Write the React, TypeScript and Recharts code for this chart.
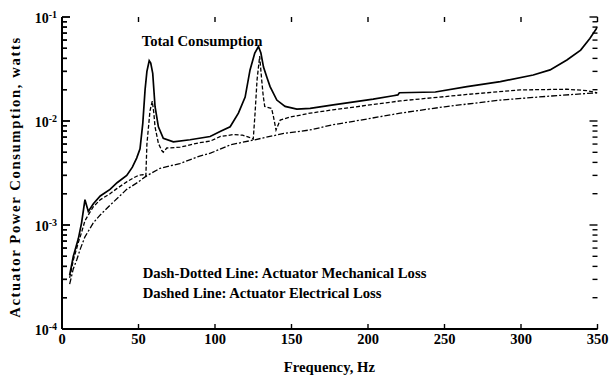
import React from 'react';
import { LineChart, Line, XAxis, YAxis, Customized } from 'recharts';

// Total consumption (solid)
const totalFreq = [5, 7.4, 10.7, 12.8, 15, 17.2, 20.5, 25, 31.4, 36, 42.3, 46, 48.8, 51, 52.8, 54.3, 55.5, 57, 58, 59.3, 60.8, 63, 66.2, 72.8, 83.7, 96.8, 104, 109.9, 115.3, 119.7, 122.9, 126, 128.4, 130, 131.7, 134, 136, 140.4, 145.8, 153.5, 162.2, 177.3, 203.4, 216.5, 219.5, 220.5, 244, 264.7, 286.5, 308, 319, 330, 339, 345, 350];
const totalVal = [3.3e-4, 5.0e-4, 7.4e-4, 1.05e-3, 1.75e-3, 1.35e-3, 1.6e-3, 1.9e-3, 2.2e-3, 2.55e-3, 3.0e-3, 3.6e-3, 4.4e-3, 5.4e-3, 9.5e-3, 0.02, 0.03, 0.038, 0.036, 0.0287, 0.0138, 8.8e-3, 6.8e-3, 6.3e-3, 6.6e-3, 7.1e-3, 8.0e-3, 8.8e-3, 0.0119, 0.017, 0.031, 0.045, 0.052, 0.045, 0.033, 0.026, 0.0214, 0.0159, 0.0138, 0.013, 0.0132, 0.0143, 0.0162, 0.0175, 0.0178, 0.0187, 0.019, 0.0214, 0.0239, 0.0277, 0.031, 0.0386, 0.048, 0.062, 0.08];

// Actuator electrical loss (dashed)
const elecFreq = [5, 7.4, 10.7, 12.8, 15, 17.2, 20.5, 25, 31.4, 36, 42.3, 47, 50, 53, 54.8, 55.5, 57.5, 59, 60, 60.8, 63, 65.2, 66.2, 68.5, 77.2, 90, 96.8, 103.6, 112, 118, 122, 125, 126.2, 127.5, 129.2, 130.5, 131.5, 132.5, 137, 138.2, 139.9, 142.6, 149, 162.2, 177, 221, 264.7, 299.5, 330, 343, 350];
const elecVal = [3.1e-4, 4.6e-4, 6.8e-4, 8.5e-4, 1.1e-3, 1.25e-3, 1.5e-3, 1.75e-3, 2.0e-3, 2.25e-3, 2.6e-3, 2.85e-3, 3.0e-3, 3.05e-3, 2.95e-3, 6e-3, 0.0125, 0.0155, 0.012, 8.8e-3, 6.1e-3, 5.2e-3, 5.0e-3, 5.5e-3, 5.6e-3, 6.2e-3, 6.4e-3, 7.1e-3, 7.4e-3, 7.3e-3, 7.0e-3, 6.7e-3, 0.012, 0.025, 0.042, 0.025, 0.0175, 0.0138, 0.0132, 0.011, 8.2e-3, 0.0102, 0.0109, 0.0119, 0.0128, 0.0156, 0.018, 0.0199, 0.0202, 0.0196, 0.0186];

// Actuator mechanical loss (dash-dotted)
const mechFreq = [5, 7.4, 9.6, 11.8, 15, 20.5, 25, 31.4, 42.3, 50, 55, 64, 77, 90, 97, 110, 126, 145, 162, 177, 200, 221, 250, 286.5, 320, 350];
const mechVal = [2.7e-4, 3.8e-4, 4.6e-4, 5.8e-4, 7.7e-4, 1.05e-3, 1.25e-3, 1.55e-3, 2.2e-3, 2.6e-3, 2.95e-3, 3.5e-3, 3.9e-3, 4.6e-3, 4.9e-3, 5.9e-3, 6.6e-3, 7.6e-3, 8.2e-3, 9.2e-3, 1.05e-2, 0.0119, 0.0137, 0.0159, 0.0174, 0.0187];

const xTicks = [0, 50, 100, 150, 200, 250, 300, 350];
const yTicks = [
  1e-4, 2e-4, 3e-4, 4e-4, 5e-4, 6e-4, 7e-4, 8e-4, 9e-4,
  1e-3, 2e-3, 3e-3, 4e-3, 5e-3, 6e-3, 7e-3, 8e-3, 9e-3,
  1e-2, 2e-2, 3e-2, 4e-2, 5e-2, 6e-2, 7e-2, 8e-2, 9e-2,
  1e-1,
];

const zip = (fs: number[], vs: number[]) => fs.map((f, i) => ({ f, v: vs[i] }));
const totalData = zip(totalFreq, totalVal);
const elecData = zip(elecFreq, elecVal);
const mechData = zip(mechFreq, mechVal);

const FONT = "'Liberation Serif', 'Times New Roman', serif";

// chart geometry
const W = 609;
const H = 375;
const M = { top: 17, right: 11.5, bottom: 0, left: 0 };
const Y_AXIS_W = 62;
const X_AXIS_H = 46;
const PLOT_L = M.left + Y_AXIS_W;
const PLOT_T = M.top;
const PLOT_W = W - M.left - M.right - Y_AXIS_W;
const PLOT_H = H - M.top - M.bottom - X_AXIS_H;
const X_MAX = 350;
const Y_MIN = 1e-4;
const Y_MAX = 1e-1;
const MAJOR_PX = 8;
const MINOR_PX = 5;
const VERT_PX = 5;

const isMajor = (v: number) => {
  const l = Math.log10(v);
  return Math.abs(l - Math.round(l)) < 1e-6;
};

// same mapping as the chart's axes (linear x, log y) for the decorative inward tick marks
const xPx = (f: number) => PLOT_L + (f / X_MAX) * PLOT_W;
const yPx = (v: number) =>
  PLOT_T + PLOT_H * (1 - (Math.log10(v) - Math.log10(Y_MIN)) / (Math.log10(Y_MAX) - Math.log10(Y_MIN)));

const leftLabel = (props: any) => {
  const x = Number(props.x);
  const y = Number(props.y);
  const v = props.payload.value;
  const major = isMajor(v);
  const len = major ? MAJOR_PX : MINOR_PX;
  const e = Math.round(Math.log10(v));
  return (
    <g>
      <rect x={x} y={y - 0.7} width={len} height={1.4} fill="#000" />
      {major && (
        <text x={x - 5} y={y + 5.5} textAnchor="end" fontFamily={FONT} fontWeight="bold" fontSize={14} fill="#000">
          10<tspan dy={-4.5} fontSize={10}>{String(e)}</tspan>
        </text>
      )}
    </g>
  );
};

const bottomLabel = (props: any) => {
  const x = Number(props.x);
  const y = Number(props.y);
  return (
    <text x={x} y={y + 14.5} textAnchor="middle" fontFamily={FONT} fontWeight="bold" fontSize={14.5} fill="#000">
      {props.payload.value}
    </text>
  );
};

const Annotations = () => {
  const right = PLOT_L + PLOT_W;
  const bottom = PLOT_T + PLOT_H;
  return (
    <g>
      <g stroke="#000" strokeWidth={1.4} fill="none">
        {yTicks.map((v) => {
          const y = yPx(v);
          const len = isMajor(v) ? MAJOR_PX : MINOR_PX;
          return (
            <g key={`y${v}`}>
              <line x1={PLOT_L} y1={y} x2={PLOT_L + len} y2={y} />
              <line x1={right - len} y1={y} x2={right} y2={y} />
            </g>
          );
        })}
        {xTicks.map((t) => {
          const x = xPx(t);
          return (
            <g key={`x${t}`}>
              <line x1={x} y1={bottom} x2={x} y2={bottom - VERT_PX} />
              <line x1={x} y1={PLOT_T} x2={x} y2={PLOT_T + VERT_PX} />
            </g>
          );
        })}
      </g>
      <g fontFamily={FONT} fontWeight="bold" fill="#000">
        <text x={141.7} y={46} fontSize={14.7}>Total Consumption</text>
        <text x={142.7} y={278.3} fontSize={14.7}>Dash-Dotted Line: Actuator Mechanical Loss</text>
        <text x={142.7} y={298.3} fontSize={14.7}>Dashed Line: Actuator Electrical Loss</text>
        <text x={329.4} y={372} fontSize={14.7} textAnchor="middle">Frequency, Hz</text>
        <text x={0} y={0} fontSize={14.7} letterSpacing={1.6} textAnchor="middle" transform="translate(19.5,177) rotate(-90)">
          Actuator Power Consumption, watts
        </text>
      </g>
    </g>
  );
};

const axisLineStyle = { stroke: '#000', strokeWidth: 2 };

export default function App() {
  return (
    <div style={{ position: 'absolute', left: 0, top: 0 }}>
      <LineChart width={W} height={H} margin={M}>
        <XAxis
          xAxisId="b"
          type="number"
          dataKey="f"
          domain={[0, X_MAX]}
          allowDataOverflow
          ticks={xTicks}
          interval={0}
          height={X_AXIS_H}
          tickSize={0}
          tickMargin={0}
          tickLine={false}
          tick={bottomLabel}
          axisLine={axisLineStyle}
        />
        <XAxis
          xAxisId="t"
          orientation="top"
          type="number"
          dataKey="f"
          domain={[0, X_MAX]}
          allowDataOverflow
          ticks={xTicks}
          height={0}
          tickLine={false}
          tick={false}
          axisLine={axisLineStyle}
        />
        <YAxis
          yAxisId="l"
          scale="log"
          type="number"
          domain={[Y_MIN, Y_MAX]}
          allowDataOverflow
          ticks={yTicks}
          interval={0}
          width={Y_AXIS_W}
          tickSize={0}
          tickMargin={0}
          tickLine={false}
          tick={leftLabel}
          axisLine={axisLineStyle}
        />
        <YAxis
          yAxisId="r"
          orientation="right"
          scale="log"
          type="number"
          domain={[Y_MIN, Y_MAX]}
          allowDataOverflow
          ticks={yTicks}
          width={0}
          tickLine={false}
          tick={false}
          axisLine={axisLineStyle}
        />
        <Line xAxisId="b" yAxisId="l" data={mechData} dataKey="v" type="linear" stroke="#000" strokeWidth={1.3} strokeDasharray="6 2 2 2" dot={false} isAnimationActive={false} />
        <Line xAxisId="b" yAxisId="l" data={elecData} dataKey="v" type="linear" stroke="#000" strokeWidth={1.3} strokeDasharray="4 2" dot={false} isAnimationActive={false} />
        <Line xAxisId="b" yAxisId="l" data={totalData} dataKey="v" type="linear" stroke="#000" strokeWidth={1.7} dot={false} isAnimationActive={false} />
        <Line xAxisId="t" yAxisId="r" data={totalData} dataKey="v" stroke="none" dot={false} isAnimationActive={false} legendType="none" />
        <Customized component={Annotations} />
      </LineChart>
    </div>
  );
}
